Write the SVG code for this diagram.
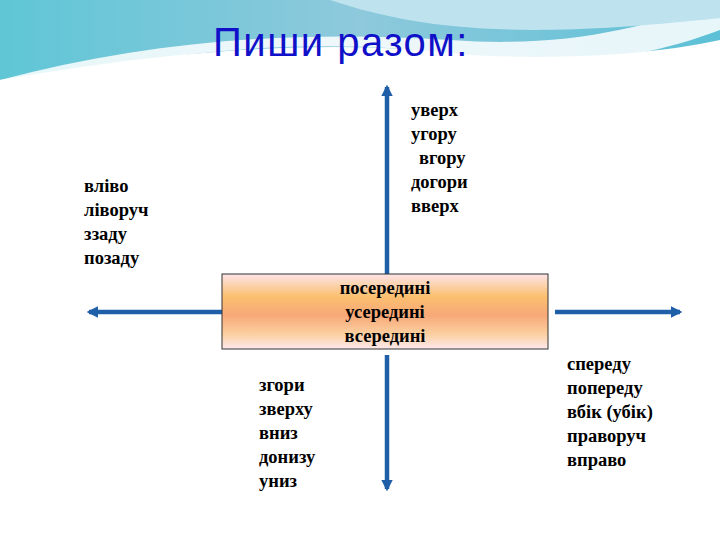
<svg xmlns="http://www.w3.org/2000/svg" width="720" height="540" viewBox="0 0 720 540">
<defs>
<linearGradient id="bg" x1="0" y1="0" x2="1" y2="0"><stop offset="0" stop-color="#5fc6d6"/><stop offset="0.5" stop-color="#8ec9dc"/><stop offset="1" stop-color="#5cc0d6"/></linearGradient>
<linearGradient id="box" x1="0" y1="0" x2="0" y2="1"><stop offset="0" stop-color="#fde4e8"/><stop offset="0.3" stop-color="#fbc070"/><stop offset="0.55" stop-color="#f8a878"/><stop offset="0.8" stop-color="#fbd0a0"/><stop offset="1" stop-color="#fde8ec"/></linearGradient>
<marker id="ah" viewBox="0 0 10 10" refX="8" refY="5" markerWidth="2.6" markerHeight="2.6" orient="auto-start-reverse"><path d="M0,0 L10,5 L0,10 Z" fill="#1f5fa8"/></marker>
<style>.t{font-family:"Liberation Serif",serif;font-weight:bold;font-size:18.5px;fill:#000}.c{stroke:#1f5fa8;stroke-width:4.5;marker-end:url(#ah)}</style>
</defs>
<rect width="720" height="540" fill="#fff"/>
<path d="M0,0 H720 V40 C650,55 560,60 470,55 C350,40 200,45 0,80 Z" fill="url(#bg)"/>
<path d="M0,80 C150,40 300,30 450,40 C560,48 640,30 720,0 V30 C640,60 560,70 460,55 C320,35 150,50 0,90 Z" fill="#fff" opacity="0.85"/>
<path d="M330,0 C420,30 520,40 720,18 V0 Z" fill="#bfe3ee"/>
<text x="341" y="56" text-anchor="middle" font-family="Liberation Sans,Arial,sans-serif" font-size="40" letter-spacing="1.5" fill="#1010c8">Пиши разом:</text>
<g id="connectors">
<line class="c" x1="387" y1="274" x2="387" y2="87"/>
<line class="c" x1="387" y1="355" x2="387" y2="489"/>
<line class="c" x1="222" y1="312" x2="89" y2="312"/>
<line class="c" x1="555" y1="312" x2="680" y2="312"/>
</g>
<g id="center"><rect x="222" y="274" width="326" height="75" fill="url(#box)" stroke="#333" stroke-width="1"/>
<text class="t" text-anchor="middle"><tspan x="385" y="294">посередині</tspan><tspan x="385" y="318">усередині</tspan><tspan x="385" y="342">всередині</tspan></text></g>
<g id="top"><text class="t"><tspan x="411" y="116">уверх</tspan><tspan x="411" y="140">угору</tspan><tspan x="419" y="164">вгору</tspan><tspan x="411" y="188">догори</tspan><tspan x="411" y="212">вверх</tspan></text></g>
<g id="left"><text class="t"><tspan x="84" y="192">вліво</tspan><tspan x="84" y="216">ліворуч</tspan><tspan x="84" y="240">ззаду</tspan><tspan x="84" y="264">позаду</tspan></text></g>
<g id="bottom"><text class="t"><tspan x="259" y="391">згори</tspan><tspan x="259" y="415">зверху</tspan><tspan x="259" y="439">вниз</tspan><tspan x="259" y="463">донизу</tspan><tspan x="259" y="487">униз</tspan></text></g>
<g id="right"><text class="t"><tspan x="567" y="370">спереду</tspan><tspan x="567" y="394">попереду</tspan><tspan x="567" y="418">вбік (убік)</tspan><tspan x="567" y="442">праворуч</tspan><tspan x="567" y="466">вправо</tspan></text></g>
</svg>
